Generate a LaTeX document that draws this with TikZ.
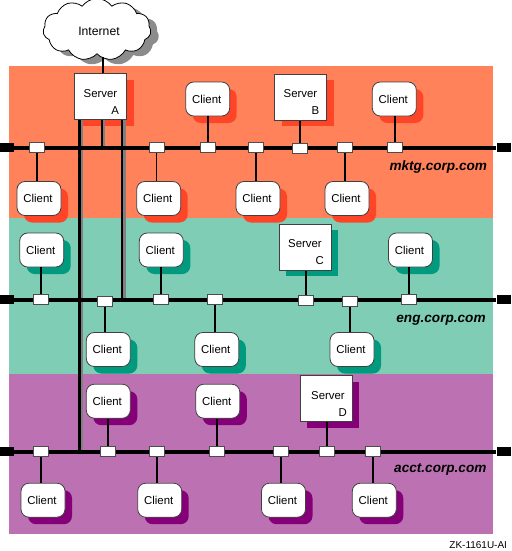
\documentclass[tikz,border=0pt]{standalone}
\usepackage{fontspec}
\setmainfont{Liberation Sans}
\usetikzlibrary{shapes.symbols,shadows}
\definecolor{mktgback}{HTML}{FF825A}
\definecolor{mktgshade}{HTML}{FF4528}
\definecolor{engback}{HTML}{7FCDB5}
\definecolor{engshade}{HTML}{009A7E}
\definecolor{acctback}{HTML}{BC72B2}
\definecolor{acctshade}{HTML}{850078}
\begin{document}
\begin{tikzpicture}[
  x=1pt,y=-1pt,
  font=\fontsize{11.4pt}{13pt}\selectfont,
  client/.style={draw=black!75,fill=white,rounded corners=8pt,line width=0.8pt,
    minimum width=44pt,minimum height=34pt,inner sep=0pt,execute at end node=\hspace{2pt},
    drop shadow={shadow xshift=7pt,shadow yshift=-7pt,opacity=1,fill=#1}},
  server/.style={draw=black!75,fill=white,line width=0.8pt,
    minimum width=52pt,minimum height=46pt,inner sep=0pt,
    drop shadow={shadow xshift=7pt,shadow yshift=-6pt,opacity=1,fill=#1}},
  tap/.style={draw=black!70,fill=white,line width=0.7pt,minimum width=15pt,minimum height=10pt,inner sep=0pt},
  busend/.style={fill=black,minimum width=14pt,minimum height=9pt,inner sep=0pt},
  bus/.style={line width=3.6pt},
  link/.style={line width=1.7pt},
  trunk/.style={line width=2.4pt},
  stripe/.style={line width=2.6pt,black!50},
  domainname/.style={font=\fontsize{13.6pt}{15pt}\selectfont\bfseries\itshape,inner sep=0pt}
]
\useasboundingbox (0,0) rectangle (511,551);

% the three subdomains
\fill[mktgback] (9,66) rectangle (493,218);
\fill[engback] (9,218) rectangle (493,374);
\fill[acctback] (9,374) rectangle (493,534);

\node[cloud,cloud puffs=11,cloud puff arc=110,aspect=1.9,draw,fill=white,line width=0.8pt,
  minimum width=108pt,minimum height=62pt,inner sep=0pt,
  drop shadow={shadow xshift=8pt,shadow yshift=-5pt,opacity=1,fill=black!45}] (net) at (97,29.5) {};
\node[font=\fontsize{12.2pt}{14pt}\selectfont] (netname) at (99,31) {Internet};

\foreach \s/\cx/\cy/\col/\d in {A/100.5/96.7/mktgshade/0,B/300.5/97.2/mktgshade/0,C/305/247.2/engshade/0,D/326/398.8/acctshade/2}{
  \node[server=\col] (srv\s) at (\cx,\cy) {};
  \node (name\s) at ([xshift=\d pt,yshift=3.6pt]srv\s.center) {Server};
  \node (letter\s) at ([xshift=14.8pt+\d pt,yshift=-13.6pt]srv\s.center) {\s};
}
\coordinate (up) at (102.7,57);
\draw[link] (up) -- (up |- srvA.north);

\foreach \b/\y in {mktg/148,eng/300,acct/451.7}{
  \node[busend] (\b L) at (7,\y-0.7) {};
  \node[busend] (\b R) at (503.5,\y-0.7) {};
}

% lines out of server A, shade first so that the buses cross it
\coordinate (trunkL) at (79.5,120);
\coordinate (trunkM) at (101.7,120);
\coordinate (trunkR) at (122,120);
\draw[stripe] ([xshift=2.4pt]trunkL) -- ([xshift=2.4pt]trunkL |- acctL);
\draw[stripe] ([xshift=2.4pt]trunkM) -- ([xshift=2.4pt]trunkM |- mktgL);
\draw[stripe] ([xshift=2.4pt]trunkR) -- ([xshift=2.4pt]trunkR |- engL);
\draw[trunk] (trunkL) -- (trunkL |- acctL);
\draw[trunk] (trunkM) -- (trunkM |- mktgL);
\draw[trunk] (trunkR) -- (trunkR |- engL);

\foreach \b/\y in {mktg/148,eng/300,acct/451.7}{
  \draw[bus] (\b L.east |- 0,\y) -- (\b R.west |- 0,\y);
}

\foreach \s/\tx/\ty in {B/300/148,C/305.8/300.7,D/326.8/451.3}{
  \node[tap] (tap\s) at (\tx,\ty) {};
  \draw[link] (srv\s.south -| tap\s) -- (tap\s.north);
}

% clients: tap x/tap y/client x/client y/tap side/client side
\foreach \tx/\ty/\cx/\cy/\a/\c [count=\i from 1] in {
  36.8/147.5/39/198.5/south/north,156.5/147.5/158.7/198.5/south/north,
  208/147.5/207.7/99/north/south,256/147.5/258/198.5/south/north,
  345/147.5/347/198.5/south/north,395/147.5/394.3/99/north/south}{
  \node[client=mktgshade] (mc\i) at (\cx,\cy) {Client};
  \node[tap] (mt\i) at (\tx,\ty) {};
  \draw[link] (mt\i.\a) -- (mt\i.\a |- mc\i.\c);
}
\foreach \tx/\ty/\cx/\cy/\a/\c [count=\i from 1] in {
  40.8/299.5/41.7/250/north/south,105/301.3/108.3/349.5/south/north,
  161.3/299.8/161.3/250/north/south,214.8/299.8/216.8/349.5/south/north,
  350.2/301.3/352/349.5/south/north,409/299/410.5/250/north/south}{
  \node[client=engshade] (ec\i) at (\cx,\cy) {Client};
  \node[tap] (et\i) at (\tx,\ty) {};
  \draw[link] (et\i.\a) -- (et\i.\a |- ec\i.\c);
}
\foreach \tx/\ty/\cx/\cy/\a/\c [count=\i from 1] in {
  41/451.7/43/500.2/south/north,108.2/451.7/108.3/401.2/north/south,
  157.3/451.7/159.7/500.2/south/north,217.3/451.7/217.8/401.2/north/south,
  281/451.7/283.5/500.2/south/north,372.7/451.7/374.3/500.2/south/north}{
  \node[client=acctshade] (ac\i) at (\cx,\cy) {Client};
  \node[tap] (at\i) at (\tx,\ty) {};
  \draw[link] (at\i.\a) -- (at\i.\a |- ac\i.\c);
}

\node[domainname] (mktgname) at (438.3,166.5) {mktg.corp.com};
\node[domainname] (engname) at (441,320.5) {eng.corp.com};
\node[domainname] (acctname) at (440.3,469.5) {acct.corp.com};
\node[font=\fontsize{10pt}{12pt}\selectfont,inner sep=0pt] (zkcode) at (478.2,545) {ZK-1161U-AI};
\end{tikzpicture}
\end{document}
